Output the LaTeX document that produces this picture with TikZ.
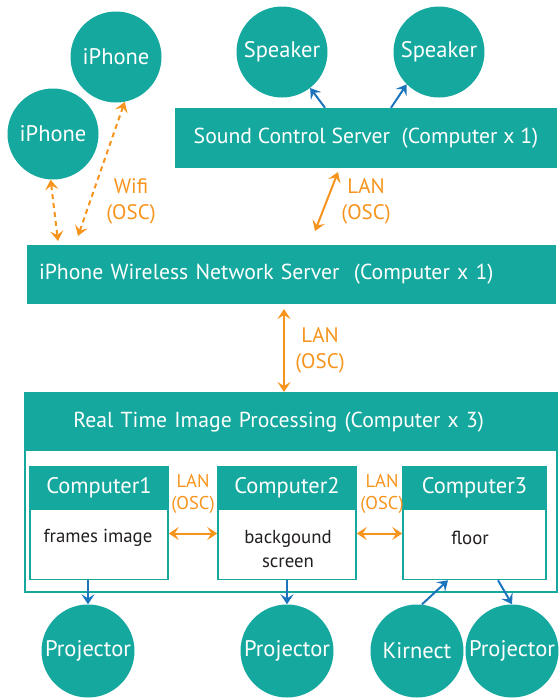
\documentclass[tikz,border=0pt]{standalone}
\usepackage{fontspec}
\setmainfont{PT Sans}
\usetikzlibrary{arrows.meta,calc}
\definecolor{teal1}{HTML}{15A89E}
\definecolor{orng}{HTML}{F7941D}
\definecolor{blu}{HTML}{1C75BC}
\definecolor{ink}{HTML}{231F20}
\tikzset{
  dev/.style={circle,fill=teal1,text=white,minimum size=91pt,inner sep=0pt,font=\fontsize{22.5}{26}\selectfont},
  bar/.style={rectangle,fill=teal1,text=white,inner sep=0pt,font=\fontsize{21.7}{26}\selectfont},
  chead/.style={rectangle,fill=teal1,draw=teal1,line width=1.5pt,text=white,inner sep=0pt,minimum width=138pt,minimum height=41pt,font=\fontsize{22.5}{26}\selectfont},
  cbody/.style={rectangle,fill=white,draw=teal1,line width=1.5pt,inner sep=0pt,minimum width=138pt,minimum height=70pt},
  btxt/.style={text=ink,align=center,inner sep=0pt,font=\fontsize{18.8}{24}\selectfont},
  lbl/.style={text=orng,align=center,inner sep=0pt,font=\fontsize{21}{26}\selectfont},
  slbl/.style={text=orng,align=center,inner sep=0pt,font=\fontsize{18.5}{22}\selectfont},
  tip/.style={Stealth[length=10pt,width=13pt,inset=4pt]},
  orarr/.style={draw=orng,line width=2pt,{Stealth[length=10pt,width=13pt,inset=4pt]}-{Stealth[length=10pt,width=13pt,inset=4pt]}},
  wifiarr/.style={orarr,dashed,dash pattern=on 5pt off 4pt},
  bluarr/.style={draw=blu,line width=2pt,-{Stealth[length=10pt,width=13pt,inset=4pt]}},
}
\begin{document}
\begin{tikzpicture}[x=1pt,y=-1pt]
\useasboundingbox (0,0) rectangle (558,699);
% devices
\node[dev] (iph1) at (116,57) {iPhone};
\node[dev] (iph2) at (53,134) {iPhone};
\node[dev] (spk1) at (282,52) {Speaker};
\node[dev] (spk2) at (439,52) {Speaker};
% servers
\node[bar,minimum width=382pt,minimum height=60pt] (sound) at (366,138) {\raisebox{-2pt}{Sound Control Server~~(Computer x 1)}};
\node[bar,minimum width=529pt,minimum height=59pt,text width=505pt,align=left,inner xsep=12pt] (wless) at (291.5,274.5) {\raisebox{-2pt}{iPhone Wireless Network Server~~(Computer x 1)}};
% real time group
\node[rectangle,draw=teal1,line width=1.5pt,minimum width=532pt,minimum height=199pt,inner sep=0pt] (rt) at (291,492.5) {};
\node[bar,minimum width=532pt,minimum height=59pt,text width=434pt,align=left,inner xsep=49pt,anchor=north west] (rthead) at (rt.north west) {\raisebox{-2pt}{Real Time Image Processing (Computer x 3)}};
% computers
\node[chead] (c1h) at (99,487.5) {Computer1};
\node[cbody,anchor=north] (c1) at (c1h.south) {};
\node[chead] (c2h) at (287,487.5) {Computer2};
\node[cbody,anchor=north] (c2) at (c2h.south) {};
\node[chead,minimum width=143pt] (c3h) at (474.5,487.5) {Computer3};
\node[cbody,minimum width=143pt,anchor=north] (c3) at (c3h.south) {};
\node[btxt] (t1) at (98,538) {frames image};
\node[btxt] (t2) at (288,549) {backgound\\screen};
\node[btxt] (t3) at (470,538) {floor};
% outputs
\node[dev,minimum size=93pt] (pj1) at (88,651) {Projector};
\node[dev,minimum size=93pt] (pj2) at (287,651) {Projector};
\node[dev,minimum size=93pt] (kin) at (417,651) {Kirnect};
\node[dev,minimum size=93pt] (pj3) at (512,651) {Projector};
% blue connectors
\draw[bluarr] ([xshift=-41pt]sound.north) -- (spk1.-52);
\draw[bluarr] ([xshift=25pt]sound.north) -- (spk2.-135);
\draw[bluarr] ([xshift=-11pt]c1.south) -- (pj1.north);
\draw[bluarr] (c2.south) -- (pj2.north);
\draw[bluarr] ([xshift=5pt]kin.north) -- ([xshift=-26.5pt]c3.south);
\draw[bluarr] ([xshift=23.5pt]c3.south) -- (pj3.north);
% orange connectors
\coordinate (w1) at (315,231);
\coordinate (s1) at (338,172);
\draw[orarr] (w1) -- (s1);
\node[lbl] (lan1) at (366,201) {LAN\\(OSC)};
\coordinate (w2) at (284,309);
\coordinate (r2) at (284,392);
\draw[orarr] (w2) -- (r2);
\node[lbl] (lan2) at (320,350) {LAN\\(OSC)};
\coordinate (w3) at (58,241);
\coordinate (w4) at (78,236);
\draw[wifiarr] (iph2.-93) -- (w3);
\draw[wifiarr] (iph1.-79) -- (w4);
\node[lbl] (wifi) at (131,201) {Wifi\\(OSC)};
\draw[orarr] ([yshift=11pt]c1.east) -- ([yshift=11pt]c2.west);
\draw[orarr] ([yshift=11pt]c2.east) -- ([yshift=11pt]c3.west);
\node[slbl] (lan3) at (193,494) {LAN\\(OSC)};
\node[slbl] (lan4) at (382,494) {LAN\\(OSC)};
\end{tikzpicture}
\end{document}
